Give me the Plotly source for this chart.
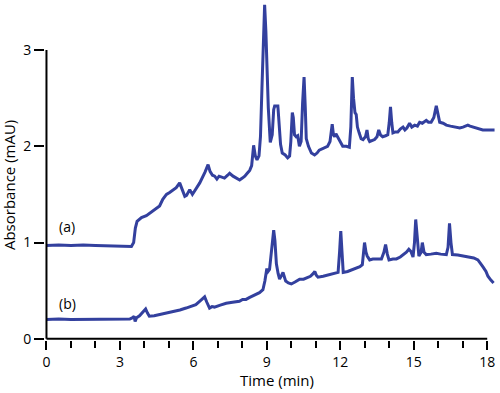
import plotly.graph_objects as go

# Trace (a)
time_a = [0.0, 0.5, 1.0, 1.5, 2.0, 2.5, 3.0, 3.3, 3.47, 3.56, 3.63, 3.70, 3.88, 4.08, 4.35, 4.62, 4.75, 4.90,
          5.03, 5.17, 5.30, 5.44, 5.55, 5.65, 5.72, 5.85, 5.96, 6.10, 6.26, 6.47, 6.60, 6.68, 6.78, 6.87, 6.96,
          7.05, 7.14, 7.27, 7.40, 7.48, 7.62, 7.75, 7.89, 8.00, 8.10, 8.20, 8.30, 8.38, 8.46, 8.53, 8.60, 8.68,
          8.74, 8.80, 8.86, 8.91, 8.96, 9.00, 9.06, 9.14, 9.22, 9.28, 9.32, 9.45, 9.50, 9.56, 9.63, 9.75, 9.85,
          9.93, 9.98, 10.04, 10.08, 10.13, 10.20, 10.26, 10.33, 10.40, 10.46, 10.52, 10.57, 10.61, 10.70, 10.82,
          10.95, 11.05, 11.14, 11.30, 11.48, 11.58, 11.64, 11.67, 11.72, 11.77, 11.82, 11.90, 12.00, 12.10, 12.25,
          12.37, 12.43, 12.49, 12.54, 12.60, 12.65, 12.70, 12.77, 12.85, 12.93, 13.03, 13.09, 13.14, 13.20, 13.30,
          13.40, 13.50, 13.57, 13.64, 13.73, 13.85, 13.94, 14.00, 14.05, 14.10, 14.15, 14.25, 14.35, 14.45, 14.56,
          14.64, 14.72, 14.83, 14.92, 15.04, 15.15, 15.24, 15.35, 15.51, 15.60, 15.71, 15.82, 15.92, 15.98, 16.06,
          16.20, 16.33, 16.50, 16.74, 16.88, 17.01, 17.10, 17.21, 17.30, 17.42, 17.60, 17.82, 18.00, 18.15, 18.30]
abs_a = [0.97, 0.975, 0.97, 0.975, 0.97, 0.965, 0.965, 0.96, 0.96, 1.00, 1.15, 1.22, 1.26, 1.28, 1.33, 1.38, 1.45, 1.50,
         1.52, 1.55, 1.57, 1.62, 1.54, 1.48, 1.49, 1.55, 1.50, 1.55, 1.62, 1.73, 1.81, 1.74, 1.70, 1.69, 1.66,
         1.69, 1.68, 1.67, 1.70, 1.72, 1.69, 1.67, 1.65, 1.67, 1.69, 1.72, 1.75, 1.80, 2.01, 1.90, 1.86, 1.90,
         2.10, 2.60, 3.20, 3.47, 3.20, 2.83, 2.40, 2.04, 2.12, 2.38, 2.42, 2.42, 2.25, 2.02, 1.93, 1.91, 1.88,
         1.90, 2.05, 2.35, 2.30, 2.12, 2.10, 2.11, 2.00, 2.05, 2.45, 2.72, 2.40, 2.08, 2.00, 1.93,
         1.91, 1.93, 1.96, 1.98, 2.00, 2.05, 2.20, 2.23, 2.12, 2.10, 2.13, 2.09, 2.05, 2.00, 2.00,
         1.99, 2.20, 2.72, 2.50, 2.35, 2.33, 2.20, 2.14, 2.08, 2.07, 2.10, 2.17, 2.08, 2.05, 2.06,
         2.07, 2.10, 2.17, 2.12, 2.10, 2.11, 2.12, 2.25, 2.41, 2.25, 2.14, 2.15, 2.15, 2.18, 2.20,
         2.17, 2.19, 2.24, 2.20, 2.22, 2.21, 2.25, 2.24, 2.27, 2.25, 2.25, 2.30, 2.42, 2.35, 2.25,
         2.24, 2.22, 2.21, 2.20, 2.19, 2.20, 2.21, 2.22, 2.21, 2.20, 2.19, 2.17, 2.17, 2.17, 2.17]

# Trace (b)
time_b = [0.0, 0.5, 1.0, 1.5, 2.0, 2.5, 3.0, 3.4, 3.52, 3.58, 3.62, 3.68, 3.80, 3.95, 4.05, 4.12, 4.20, 4.40, 4.60,
          4.90, 5.16, 5.45, 5.70, 5.95, 6.10, 6.30, 6.46, 6.55, 6.66, 6.76, 6.86, 7.10, 7.34, 7.60, 7.88, 8.01,
          8.15, 8.30, 8.57, 8.70, 8.84, 8.92, 9.00, 9.05, 9.11, 9.18, 9.24, 9.28, 9.33, 9.39, 9.46, 9.52, 9.60,
          9.66, 9.72, 9.77, 9.88, 10.00, 10.15, 10.34, 10.50, 10.61, 10.70, 10.78, 10.90, 10.96, 11.02, 11.09,
          11.30, 11.57, 11.80, 11.91, 11.97, 12.02, 12.07, 12.12, 12.30, 12.50, 12.65, 12.80, 12.90, 12.96,
          12.99, 13.05, 13.10, 13.20, 13.33, 13.50, 13.68, 13.78, 13.85, 13.92, 13.99, 14.15, 14.29, 14.45,
          14.60, 14.70, 14.80, 14.88, 14.97, 15.03, 15.08, 15.12, 15.17, 15.21, 15.30, 15.35, 15.42, 15.51,
          15.70, 15.92, 16.10, 16.33, 16.40, 16.46, 16.52, 16.58, 16.80, 17.00, 17.20, 17.45, 17.62, 17.75,
          17.82, 17.95, 18.03, 18.15, 18.26]
abs_b = [0.20, 0.205, 0.20, 0.20, 0.20, 0.20, 0.20, 0.205, 0.22, 0.235, 0.18, 0.22, 0.24, 0.28, 0.31, 0.27, 0.235, 0.24, 0.25,
         0.265, 0.28, 0.30, 0.32, 0.34, 0.356, 0.40, 0.436, 0.38, 0.32, 0.335, 0.33, 0.35, 0.37, 0.38, 0.39, 0.41,
         0.41, 0.43, 0.46, 0.48, 0.51, 0.60, 0.73, 0.70, 0.72, 0.90, 1.08, 1.13, 1.02, 0.78, 0.68, 0.62, 0.66,
         0.69, 0.64, 0.60, 0.58, 0.57, 0.59, 0.62, 0.62, 0.63, 0.64, 0.65, 0.68, 0.70, 0.66, 0.64,
         0.65, 0.67, 0.68, 0.69, 0.90, 1.12, 0.90, 0.69, 0.70, 0.72, 0.73, 0.75, 0.77, 0.95,
         1.00, 0.90, 0.86, 0.82, 0.83, 0.83, 0.83, 0.90, 0.98, 0.88, 0.82, 0.83, 0.83, 0.85,
         0.88, 0.90, 0.93, 0.91, 0.85, 1.00, 1.24, 1.10, 0.90, 0.86, 0.90, 1.00, 0.90, 0.875,
         0.88, 0.89, 0.88, 0.875, 0.95, 1.20, 1.00, 0.875, 0.87, 0.86, 0.85, 0.84, 0.82, 0.78,
         0.75, 0.70, 0.65, 0.61, 0.58]

x_ticks = [0, 3, 6, 9, 12, 15, 18]
y_ticks = [0, 1, 2, 3]
trace_labels = ["(a)", "(b)"]
x_title = "Time (min)"
y_title = "Absorbance (mAU)"

LINE = "#33409e"
FONT = "Open Sans"

X_RANGE = [-0.06, 18.4]
Y_RANGE = [-0.012, 3.52]

fig = go.Figure()
fig.add_trace(go.Scatter(x=time_a, y=abs_a, mode="lines", line=dict(color=LINE, width=3), showlegend=False))
fig.add_trace(go.Scatter(x=time_b, y=abs_b, mode="lines", line=dict(color=LINE, width=3), showlegend=False))

# axis lines drawn only over the labelled span (paper ref on the cross axis to avoid clipping)
y0_paper = (0 - Y_RANGE[0]) / (Y_RANGE[1] - Y_RANGE[0])
x0_paper = (0 - X_RANGE[0]) / (X_RANGE[1] - X_RANGE[0])
fig.add_shape(type="line", x0=x_ticks[0], x1=x_ticks[-1], y0=y0_paper, y1=y0_paper, xref="x", yref="paper",
              line=dict(color="black", width=2))
fig.add_shape(type="line", x0=x0_paper, x1=x0_paper, y0=y_ticks[0], y1=y_ticks[-1], xref="paper", yref="y",
              line=dict(color="black", width=2))

fig.add_annotation(x=0.45, y=1.17, xref="x", yref="y", text=trace_labels[0], showarrow=False,
                   xanchor="left", font=dict(family=FONT, size=14, color="black"))
fig.add_annotation(x=0.45, y=0.37, xref="x", yref="y", text=trace_labels[1], showarrow=False,
                   xanchor="left", font=dict(family=FONT, size=14, color="black"))
fig.add_annotation(x=9.4, y=-0.119, xref="x", yref="paper", text=x_title, showarrow=False,
                   yanchor="middle", font=dict(family=FONT, size=15, color="black"))
fig.add_annotation(x=-0.078, y=0.455, xref="paper", yref="paper", text=y_title, showarrow=False,
                   textangle=-90, xanchor="center", yanchor="middle",
                   font=dict(family=FONT, size=15, color="black"))

fig.update_layout(
    width=500, height=393,
    margin=dict(l=45, r=3, t=0, b=53),
    paper_bgcolor="white", plot_bgcolor="white",
    font=dict(family=FONT, size=13, color="black"),
    xaxis=dict(range=X_RANGE, tickmode="array", tickvals=x_ticks, ticktext=[str(v) for v in x_ticks],
               ticks="outside", ticklen=9, tickwidth=1.5, tickcolor="black",
               minor=dict(tickmode="linear", tick0=0, dtick=1, ticks="outside", ticklen=7, tickwidth=1.5,
                          tickcolor="black", showgrid=False),
               showgrid=False, zeroline=False, showline=False, tickfont=dict(size=14)),
    yaxis=dict(range=Y_RANGE, tickmode="array", tickvals=y_ticks, ticktext=[str(v) for v in y_ticks],
               ticks="outside", ticklen=10, tickwidth=1.5, tickcolor="black",
               showgrid=False, zeroline=False, showline=False, tickfont=dict(size=14)),
)

fig.write_html("out.html", config={"displayModeBar": False},
               post_script="document.body.style.margin='0';document.body.style.overflow='hidden';")
